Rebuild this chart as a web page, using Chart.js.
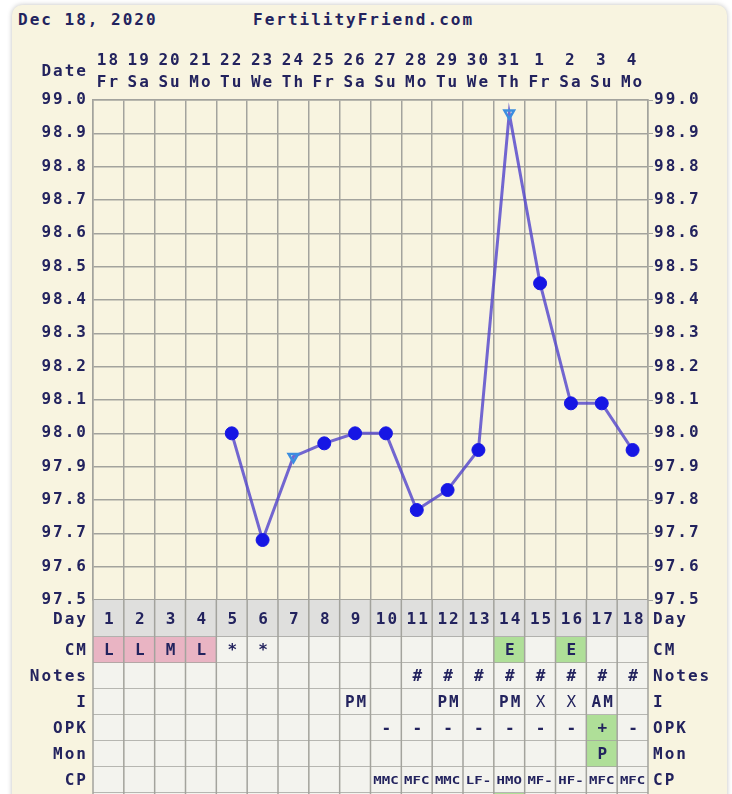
<!DOCTYPE html>
<html>
<head>
<meta charset="utf-8">
<script src="https://cdn.jsdelivr.net/npm/chart.js@4.4.1/dist/chart.umd.min.js"></script>
<style>
  html, body { margin: 0; padding: 0; background: #fff; }
  #wrap { position: relative; width: 732px; height: 794px; overflow: hidden; }
  #panel { position: absolute; left: 12px; top: 5px; width: 715px; height: 830px;
           background: #f8f4e0; border-radius: 10px; box-shadow: 0 0 5px rgba(0,0,0,0.25); }
  .hdr { position: absolute; top: 11px; font: bold 16px "DejaVu Sans Mono", monospace;
         letter-spacing: 2px; line-height: 18px; color: #23235e; }
  #box { position: absolute; left: 0; top: 0; width: 732px; height: 794px; }
</style>
</head>
<body>
<div id="wrap">
  <div id="panel"></div>
  <div class="hdr" style="left:18px">Dec 18, 2020</div>
  <div class="hdr" style="left:253px">FertilityFriend.com</div>
  <div id="box"><canvas id="chart"></canvas></div>
</div>
<script>
// dates / weekdays on the top axis
const dates = ["18","19","20","21","22","23","24","25","26","27","28","29","30","31","1","2","3","4"];
const weekdays = ["Fr","Sa","Su","Mo","Tu","We","Th","Fr","Sa","Su","Mo","Tu","We","Th","Fr","Sa","Su","Mo"];
const cycleDays = ["1","2","3","4","5","6","7","8","9","10","11","12","13","14","15","16","17","18"];

// temperatures (F); "open" = open triangle marker
const temps = [null, null, null, null, 98.00, 97.68, 97.93, 97.97, 98.00, 98.00, 97.77, 97.83, 97.95, 98.96, 98.45, 98.09, 98.09, 97.95];
const markers = ["", "", "", "", "dot", "dot", "open", "dot", "dot", "dot", "dot", "dot", "dot", "open", "dot", "dot", "dot", "dot"];
const yTicks = [97.5, 97.6, 97.7, 97.8, 97.9, 98.0, 98.1, 98.2, 98.3, 98.4, 98.5, 98.6, 98.7, 98.8, 98.9, 99.0];

// table rows under the chart
const cmRow    = ["L","L","M","L","*","*","","","","","","","","E","","E","",""];
const cmFill   = ["p","p","p","p","","","","","","","","","","g","","g","",""];
const notesRow = ["","","","","","","","","","","#","#","#","#","#","#","#","#"];
const iRow     = ["","","","","","","","","PM","","","PM","","PM","X","X","AM",""];
const opkRow   = ["","","","","","","","","","-","-","-","-","-","-","-","+","-"];
const opkFill  = ["","","","","","","","","","","","","","","","","g",""];
const monRow   = ["","","","","","","","","","","","","","","","","P",""];
const monFill  = ["","","","","","","","","","","","","","","","","g",""];
const cpRow    = ["","","","","","","","","","MMC","MFC","MMC","LF-","HMO","MF-","HF-","MFC","MFC"];
const nextFill = ["","","","","","","","","","","","","","g","","","",""];

const INK = "#23235e";
const GRID = "#a3a39d";
const FONT = "DejaVu Sans Mono";
const fills = { p: "#e9b4c3", g: "#afdf98" };

const rows = [
  { label: "Day", values: cycleDays, fill: [], h: 37, bg: "#dfdfdd" },
  { label: "CM", values: cmRow, fill: cmFill, h: 26 },
  { label: "Notes", values: notesRow, fill: [], h: 26 },
  { label: "I", values: iRow, fill: [], h: 26 },
  { label: "OPK", values: opkRow, fill: opkFill, h: 26 },
  { label: "Mon", values: monRow, fill: monFill, h: 26 },
  { label: "CP", values: cpRow, fill: [], h: 26, small: true },
  { label: "", values: [], fill: nextFill, h: 26 }
];

const spacing = {
  id: "spacing",
  beforeDraw(chart) { chart.ctx.letterSpacing = "2px"; }
};

const chartTable = {
  id: "chartTable",
  afterDraw(chart) {
    const ctx = chart.ctx;
    const xs = chart.scales.x;
    const area = chart.chartArea;
    const half = (xs.getPixelForTick(1) - xs.getPixelForTick(0)) / 2;
    ctx.save();
    ctx.letterSpacing = "2px";

    // "Date" caption beside the top axis
    ctx.fillStyle = INK;
    ctx.font = "bold 16px " + FONT;
    ctx.textAlign = "right";
    ctx.textBaseline = "middle";
    ctx.fillText("Date", area.left - 5, 72);

    let top = area.bottom;
    rows.forEach(row => {
      for (let i = 0; i < cycleDays.length; i++) {
        const c = xs.getPixelForTick(i);
        const f = row.fill[i];
        ctx.fillStyle = f ? fills[f] : (row.bg || "#f3f3ee");
        ctx.fillRect(c - half, top, half * 2, row.h);
      }
      ctx.strokeStyle = GRID;
      ctx.lineWidth = 1.5;
      ctx.beginPath();
      ctx.moveTo(area.left, top + row.h);
      ctx.lineTo(area.right, top + row.h);
      for (let i = 0; i <= cycleDays.length; i++) {
        const x = xs.getPixelForTick(0) - half + i * half * 2;
        ctx.moveTo(x, top);
        ctx.lineTo(x, top + row.h);
      }
      ctx.stroke();

      const mid = top + row.h / 2 + 1;
      ctx.fillStyle = INK;
      ctx.font = "bold 16px " + FONT;
      ctx.textAlign = "right";
      ctx.fillText(row.label, area.left - 5, mid);
      ctx.textAlign = "left";
      ctx.fillText(row.label, area.right + 5, mid);

      ctx.textAlign = "center";
      row.values.forEach((v, i) => {
        if (!v) return;
        const c = xs.getPixelForTick(i);
        if (row.small) {
          ctx.save();
          ctx.letterSpacing = "0px";
          ctx.font = "bold 10px " + FONT;
          ctx.translate(c, mid);
          ctx.scale(1.4, 1);
          ctx.fillText(v, 0, 0);
          ctx.restore();
        } else {
          ctx.font = (v === "X" ? "" : "bold ") + "16px " + FONT;
          ctx.fillText(v, c + 1.5, mid);
        }
      });
      top += row.h;
    });
    ctx.restore();
  }
};

const yAxisCommon = {
  type: "linear",
  min: 97.5,
  max: 99.0,
  afterBuildTicks: s => { s.ticks = yTicks.map(v => ({ value: v })); },
  ticks: {
    color: INK,
    font: { family: FONT, size: 16, weight: "bold" },
    callback: v => v.toFixed(1)
  },
  border: { color: GRID, width: 1.5 }
};

new Chart(document.getElementById("chart"), {
  type: "line",
  data: {
    labels: dates.map((d, i) => [d, weekdays[i]]),
    datasets: [{
      data: temps,
      borderColor: "rgba(80, 66, 204, 0.8)",
      borderWidth: 3,
      tension: 0,
      pointStyle: markers.map(m => m === "open" ? "triangle" : "circle"),
      pointRotation: markers.map(m => m === "open" ? 180 : 0),
      pointRadius: markers.map(m => m === "open" ? 5.5 : 6.5),
      pointBackgroundColor: markers.map(m => m === "open" ? "rgba(0,0,0,0)" : "#1616e4"),
      pointBorderColor: markers.map(m => m === "open" ? "#3c8ee0" : "#1616e4"),
      pointBorderWidth: markers.map(m => m === "open" ? 2.5 : 1)
    }]
  },
  options: {
    responsive: true,
    maintainAspectRatio: false,
    animation: false,
    layout: { padding: { left: 0, right: 0, top: 0, bottom: 194 } },
    plugins: { legend: { display: false }, tooltip: { enabled: false } },
    scales: {
      x: {
        type: "category",
        position: "top",
        offset: true,
        afterFit: s => { s.height = 100; },
        grid: { offset: true, color: GRID, lineWidth: 1.5, drawTicks: false },
        border: { color: GRID, width: 1.5 },
        ticks: {
          color: INK,
          autoSkip: false,
          maxRotation: 0,
          padding: 6,
          font: { family: FONT, size: 16, weight: "bold", lineHeight: 1.4 }
        }
      },
      y: Object.assign({}, yAxisCommon, {
        position: "left",
        afterFit: s => { s.width = 93; },
        grid: { color: GRID, lineWidth: 1.5, drawTicks: false },
        ticks: Object.assign({}, yAxisCommon.ticks, { padding: 5 })
      }),
      y2: Object.assign({}, yAxisCommon, {
        position: "right",
        afterFit: s => { s.width = 84; },
        grid: { drawOnChartArea: false, drawTicks: true, tickLength: 5, color: GRID },
        ticks: Object.assign({}, yAxisCommon.ticks, { padding: 1 })
      })
    }
  },
  plugins: [spacing, chartTable]
});
</script>
</body>
</html>
